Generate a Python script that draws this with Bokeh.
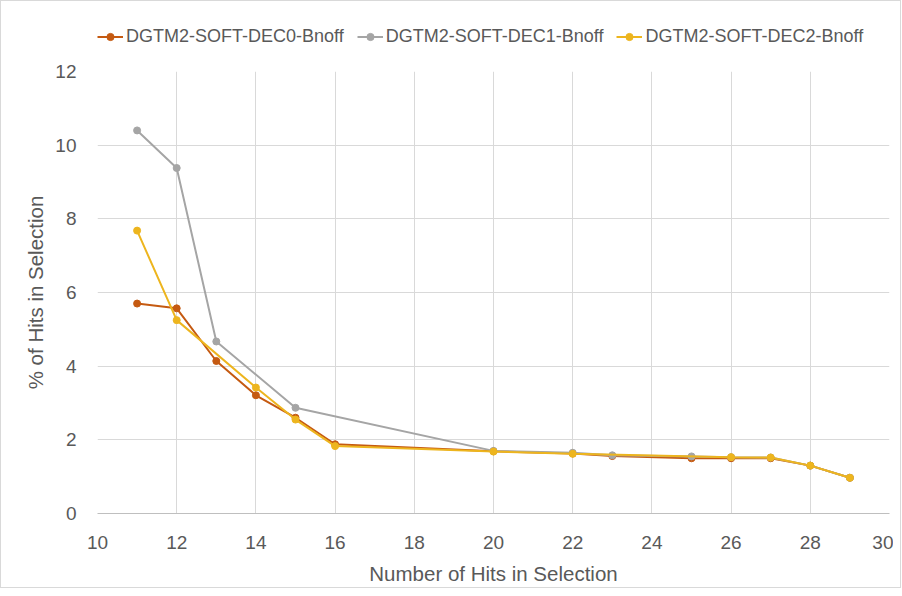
from bokeh.plotting import figure
from bokeh.layouts import column
from bokeh.models import Range1d, FixedTicker, Legend, LegendItem
from bokeh.embed import file_html
from bokeh.resources import INLINE

# Data
dec0_x = [11, 12, 13, 14, 15, 16, 20, 22, 23, 25, 26, 27, 28, 29]
dec0_y = [5.70, 5.57, 4.14, 3.21, 2.60, 1.88, 1.69, 1.63, 1.56, 1.50, 1.50, 1.50, 1.30, 0.97]

dec1_x = [11, 12, 13, 15, 20, 22, 23, 25, 26, 27, 28, 29]
dec1_y = [10.40, 9.38, 4.67, 2.87, 1.70, 1.65, 1.58, 1.55, 1.53, 1.52, 1.30, 0.97]

dec2_x = [11, 12, 14, 15, 16, 20, 22, 26, 27, 28, 29]
dec2_y = [7.68, 5.25, 3.42, 2.55, 1.83, 1.68, 1.62, 1.53, 1.52, 1.30, 0.97]

series_names = ["DGTM2-SOFT-DEC0-Bnoff", "DGTM2-SOFT-DEC1-Bnoff", "DGTM2-SOFT-DEC2-Bnoff"]
series_colors = ["#C55A11", "#A5A5A5", "#EDB51E"]

x_ticks = [10, 12, 14, 16, 18, 20, 22, 24, 26, 28, 30]
y_ticks = [0, 2, 4, 6, 8, 10, 12]

FONT = "Liberation Sans"
TXT = "#595959"
TOTAL_W = 899

# ---- main chart ----
p = figure(frame_width=792, frame_height=442, output_backend="svg", toolbar_location=None,
           x_range=Range1d(10, 30), y_range=Range1d(0, 12),
           min_border_left=96, min_border_right=4, min_border_top=10, min_border_bottom=60)
p.outline_line_color = None
p.background_fill_color = "white"

p.xaxis.ticker = FixedTicker(ticks=x_ticks)
p.yaxis.ticker = FixedTicker(ticks=y_ticks)
p.xgrid.ticker = FixedTicker(ticks=x_ticks)
p.ygrid.ticker = FixedTicker(ticks=y_ticks)
p.xgrid.grid_line_color = "#d9d9d9"
p.ygrid.grid_line_color = "#d9d9d9"

for ax in (p.xaxis, p.yaxis):
    ax.major_tick_line_color = None
    ax.minor_tick_line_color = None
    ax.major_label_text_font = FONT
    ax.major_label_text_font_size = "19px"
    ax.major_label_text_color = TXT
    ax.axis_label_text_font = FONT
    ax.axis_label_text_font_size = "20.5px"
    ax.axis_label_text_color = TXT
    ax.axis_label_text_font_style = "normal"
p.yaxis.axis_line_color = None
p.xaxis.axis_line_color = "#bfbfbf"
p.xaxis.major_label_standoff = 16
p.yaxis.major_label_standoff = 15
p.xaxis.axis_label = "Number of Hits in Selection"
p.yaxis.axis_label = "% of Hits in Selection"
p.xaxis.axis_label_standoff = 10
p.yaxis.axis_label_standoff = 5

all_x = [dec0_x, dec1_x, dec2_x]
all_y = [dec0_y, dec1_y, dec2_y]
for xs, ys, col in zip(all_x, all_y, series_colors):
    p.line(xs, ys, line_color=col, line_width=2)
    p.scatter(xs, ys, marker="circle", size=7, fill_color=col, line_color=col)

# ---- legend strip (same series, drawn outside its visible range) ----
lg = figure(width=TOTAL_W, height=60, output_backend="svg", toolbar_location=None,
            x_range=Range1d(0, 1), y_range=Range1d(0, 1),
            x_axis_type=None, y_axis_type=None,
            min_border_left=24, min_border_right=0, min_border_top=10, min_border_bottom=0)
lg.outline_line_color = None
lg.xgrid.visible = False
lg.ygrid.visible = False
items = []
for xs, ys, name, col in zip(all_x, all_y, series_names, series_colors):
    l = lg.line(xs, ys, line_color=col, line_width=2)
    c = lg.scatter(xs, ys, marker="circle", size=7, fill_color=col, line_color=col)
    items.append(LegendItem(label=name, renderers=[l, c]))
legend = Legend(items=items, orientation="horizontal", location="left",
                border_line_color=None, background_fill_alpha=0,
                label_text_font=FONT, label_text_font_size="18px",
                label_text_color=TXT, glyph_width=26, glyph_height=18,
                spacing=13, label_standoff=3, padding=2, margin=0)
lg.add_layout(legend, "center")

layout = column(lg, p, spacing=0)
layout.styles = {"border": "1px solid #d9d9d9"}

open("out.html", "w").write(file_html(layout, INLINE))
